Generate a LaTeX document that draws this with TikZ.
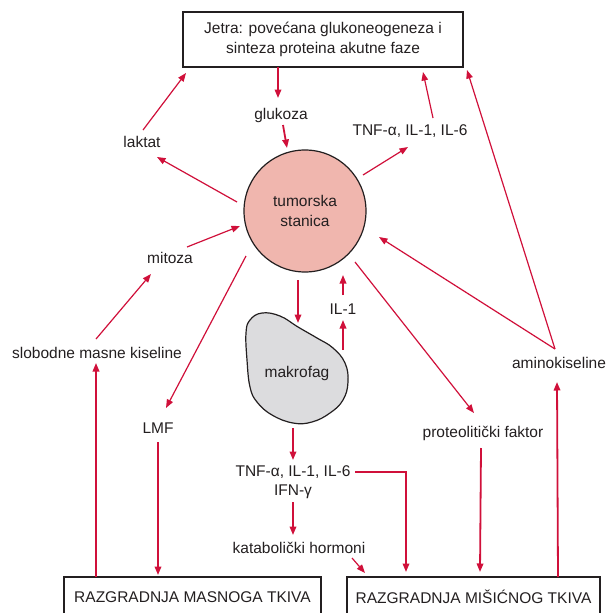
\documentclass[tikz,border=0pt]{standalone}
\usepackage{fontspec}
\setmainfont{Liberation Sans}
\usetikzlibrary{arrows.meta,calc}
\definecolor{arrred}{RGB}{208,16,58}
\definecolor{cellfill}{RGB}{240,182,174}
\definecolor{macfill}{RGB}{220,220,222}
\definecolor{ink}{RGB}{35,31,32}
\begin{document}
\begin{tikzpicture}[x=1pt,y=-1pt,
  every node/.style={text=ink,font=\fontsize{15.5}{19.5}\selectfont},
  lbl/.style={inner sep=0pt,align=center},
  arr/.style={draw=arrred,line width=1.2pt,-{Triangle[length=8.5pt,width=6.5pt]}},
  arrb/.style={arr,line width=1.8pt},
  box/.style={draw=ink,line width=1.4pt,inner sep=0pt,align=center}]
\useasboundingbox (0,0) rectangle (611,613);
% boxes
\node[box,minimum width=280pt,minimum height=55pt] (jetra) at (323,39.5)
  {Jetra: povećana glukoneogeneza i\\sinteza proteina akutne faze};
\node[box,minimum width=257pt,minimum height=40pt] (masno) at (192.5,597) {RAZGRADNJA MASNOGA TKIVA};
\node[box,minimum width=253pt,minimum height=40pt] (misic) at (473.5,597) {RAZGRADNJA MIŠIĆNOG TKIVA};
% tumour cell
\node[circle,draw=ink,line width=1.2pt,fill=cellfill,minimum size=122pt,inner sep=0pt,align=center] (circ) at (305,211) {tumorska\\stanica};
% macrophage
\draw[fill=macfill,draw=ink,line width=1.2pt] plot[smooth cycle,tension=0.7] coordinates {
  (246,333) (250,320) (262,313) (280,316) (298,327) (317,338) (333,348) (345,363)
  (348,382) (343,400) (330,413) (312,422) (293,423) (272,415) (257,402) (250,387) (247,360)};
\node[lbl] (makro) at (297,373) {makrofag};
% labels
\node[lbl] (glukoza) at (281,115) {glukoza};
\node[lbl] (laktat) at (142,142) {laktat};
\node[lbl] (tnfa) at (410,131) {TNF-α, IL-1, IL-6};
\node[lbl] (mitoza) at (170,258) {mitoza};
\node[lbl] (ilone) at (343,309) {IL-1};
\node[lbl] (slob) at (97,353) {slobodne masne kiseline};
\node[lbl] (amino) at (559,363) {aminokiseline};
\node[lbl] (prot) at (483,433) {proteolitički faktor};
\node[lbl] (lmf) at (158,428) {LMF};
\node[lbl] (tnfb) at (293,482) {TNF-α, IL-1, IL-6\\IFN-γ};
\node[lbl] (katab) at (299,548) {katabolički hormoni};
% connectors
\draw[arrb] ($(jetra)+(-45,27.5)$) -- ($(glukoza)+(-3,-17)$);
\draw[arrb] ($(glukoza)+(2,10)$) -- ($(circ)+(-18,-63)$);
\draw[arr] ($(laktat)+(1,-12)$) -- ($(jetra)+(-137,33.5)$);
\draw[arr] ($(circ)+(-68,-9)$) -- ($(laktat)+(15,15)$);
\draw[arr] ($(mitoza)+(17,-11)$) -- ($(circ)+(-65,15)$);
\draw[arr] ($(slob)+(-1,-14)$) -- ($(mitoza)+(-19,16)$);
\draw[arrb] ($(masno)+(-96.5,-20)$) -- ($(slob)+(-1,10)$);
\draw[arr] ($(circ)+(-59,45)$) -- ($(lmf)+(8,-20)$);
\draw[arrb] ($(lmf)+(0,14)$) -- ($(masno)+(-34.5,-22)$);
\draw[arrb] ($(circ)+(-7,69)$) -- ($(makro)+(1,-50)$);
\draw[arrb] ($(makro)+(46,-23)$) -- ($(ilone)+(0,11)$);
\draw[arrb] ($(ilone)+(0,-14)$) -- ($(circ)+(38,64)$);
\draw[arr] ($(circ)+(58,-36)$) -- ($(tnfa)+(-2,16)$);
\draw[arr] ($(tnfa)+(23,-13)$) -- ($(jetra)+(100,32.5)$);
\coordinate (apex) at ($(amino)+(-4,-14)$);
\draw[arr] (apex) -- ($(jetra)+(144,30.5)$);
\draw[arr] (apex) -- ($(circ)+(74,26)$);
\draw[arrb] ($(misic)+(84.5,-20)$) -- ($(amino)+(-2,19)$);
\draw[arr] ($(circ)+(50,51)$) -- ($(prot)+(-9,-20)$);
\draw[arrb] ($(prot)+(-2,15)$) -- ($(misic)+(6.5,-25)$);
\draw[arrb] ($(makro)+(-4,55)$) -- ($(tnfb)+(0,-22)$);
\draw[arrb] ($(tnfb)+(62,-10)$) -| ($(misic)+(-67.5,-25)$);
\draw[arrb] ($(tnfb)+(0,20)$) -- ($(katab)+(-6,-13)$);
\draw[arr] ($(katab)+(53,10)$) -- ($(misic)+(-108.5,-24)$);
\end{tikzpicture}
\end{document}
